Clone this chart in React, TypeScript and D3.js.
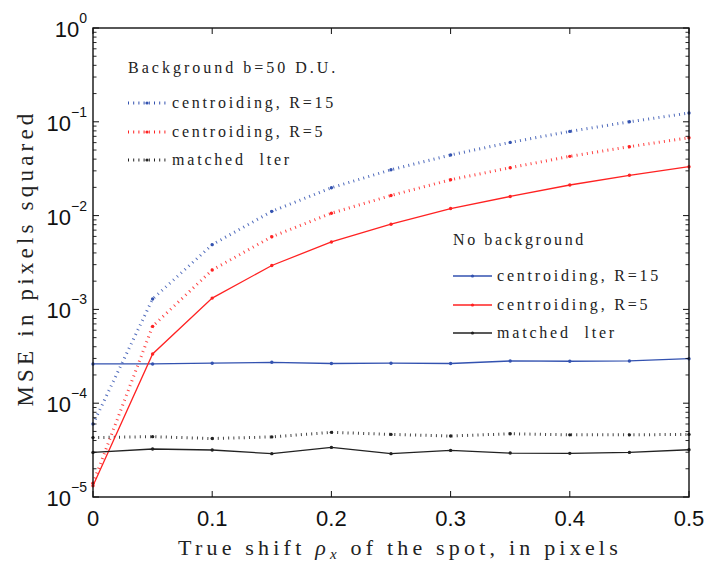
import React from "react";
import * as d3 from "d3";

const xs = [0, 0.05, 0.1, 0.15, 0.2, 0.25, 0.3, 0.35, 0.4, 0.45, 0.5];
const bgR15 = [6.0e-5, 1.29e-3, 4.9e-3, 1.11e-2, 1.98e-2, 3.08e-2, 4.43e-2, 6.03e-2, 7.9e-2, 0.1, 0.124];
const bgR5 = [1.4e-5, 6.6e-4, 2.63e-3, 5.96e-3, 1.06e-2, 1.64e-2, 2.41e-2, 3.24e-2, 4.28e-2, 5.43e-2, 6.76e-2];
const bgMF = [4.3e-5, 4.4e-5, 4.2e-5, 4.37e-5, 4.89e-5, 4.65e-5, 4.47e-5, 4.72e-5, 4.6e-5, 4.6e-5, 4.65e-5];
const noR15 = [2.62e-4, 2.62e-4, 2.67e-4, 2.73e-4, 2.65e-4, 2.67e-4, 2.65e-4, 2.82e-4, 2.8e-4, 2.82e-4, 2.98e-4];
const noR5 = [1.32e-5, 3.35e-4, 1.32e-3, 2.94e-3, 5.24e-3, 8.1e-3, 1.19e-2, 1.6e-2, 2.12e-2, 2.69e-2, 3.32e-2];
const noMF = [2.99e-5, 3.25e-5, 3.17e-5, 2.9e-5, 3.38e-5, 2.9e-5, 3.14e-5, 2.94e-5, 2.92e-5, 2.99e-5, 3.19e-5];

const xTicks = [0, 0.1, 0.2, 0.3, 0.4, 0.5];
const xTickLabels = ["0", "0.1", "0.2", "0.3", "0.4", "0.5"];
const yExponents = [-5, -4, -3, -2, -1, 0];

const bgTitle = "Background b=50 D.U.";
const noTitle = "No background";
const seriesNames = ["centroiding, R=15", "centroiding, R=5", "matched  lter"];

const BLUE = "#3352b0";
const RED = "#ff2222";
const BLACK = "#222222";

const L = 93, R = 689, T = 28, B = 497;

export default function App() {
  const x = d3.scaleLinear().domain([0, 0.5]).range([L, R]);
  const y = d3.scaleLog().domain([1e-5, 1]).range([B, T]);
  const line = d3
    .line<number>()
    .x((_, i) => x(xs[i]))
    .y((d) => y(d));

  const dotted = { strokeDasharray: "1,4.2", strokeWidth: 3 };
  const series = [
    { data: bgR15, color: BLUE, dot: true },
    { data: bgR5, color: RED, dot: true },
    { data: bgMF, color: BLACK, dot: true },
    { data: noR15, color: BLUE, dot: false },
    { data: noR5, color: RED, dot: false },
    { data: noMF, color: BLACK, dot: false },
  ];

  const minor: number[] = [];
  for (let e = -5; e < 0; e++) for (let k = 2; k <= 9; k++) minor.push(k * Math.pow(10, e));

  const sansFont = "'Liberation Sans', Arial, sans-serif";
  const serifFont = "'Liberation Serif', 'Times New Roman', serif";

  const legendRow = (
    lx1: number,
    lx2: number,
    tx: number,
    ly: number,
    color: string,
    dot: boolean,
    label: string,
    key: string
  ) => (
    <g key={key}>
      <line
        x1={lx1}
        x2={lx2}
        y1={ly}
        y2={ly}
        stroke={color}
        strokeWidth={dot ? 3 : 1.3}
        strokeDasharray={dot ? "1,4.2" : undefined}
      />
      <circle cx={(lx1 + lx2) / 2} cy={ly} r={1.6} fill={color} />
      <text
        x={tx}
        y={ly + 5}
        fontFamily={serifFont}
        fontSize={16}
        letterSpacing={2.8}
        fill="#222"
        style={{ whiteSpace: "pre" }}
      >
        {label}
      </text>
    </g>
  );

  return (
    <div style={{ position: "fixed", left: 0, top: 0 }}>
      <svg width={706} height={562} style={{ display: "block", background: "#fff" }}>
        {/* series */}
        {series.map((s, si) => (
          <g key={si}>
            <path
              d={line(s.data) || ""}
              fill="none"
              stroke={s.color}
              strokeWidth={s.dot ? dotted.strokeWidth : 1.3}
              strokeDasharray={s.dot ? dotted.strokeDasharray : undefined}
              opacity={s.dot ? 0.85 : 1}
            />
            {s.data.map((d, i) => (
              <circle key={i} cx={x(xs[i])} cy={y(d)} r={1.7} fill={s.color} />
            ))}
          </g>
        ))}

        {/* axes box */}
        <rect x={L} y={T} width={R - L} height={B - T} fill="none" stroke="#111" strokeWidth={1.4} />

        {/* x ticks */}
        {xTicks.map((t, i) => (
          <g key={"xt" + i}>
            <line x1={x(t)} x2={x(t)} y1={B} y2={B - 6} stroke="#111" strokeWidth={1} />
            <line x1={x(t)} x2={x(t)} y1={T} y2={T + 6} stroke="#111" strokeWidth={1} />
            <text
              x={x(t)}
              y={B + 29}
              textAnchor="middle"
              fontFamily={sansFont}
              fontSize={22}
              fill="#111"
            >
              {xTickLabels[i]}
            </text>
          </g>
        ))}

        {/* y major ticks */}
        {yExponents.map((e) => {
          const yy = y(Math.pow(10, e));
          return (
            <g key={"ye" + e}>
              <line x1={L} x2={L + 6} y1={yy} y2={yy} stroke="#111" strokeWidth={1} />
              <line x1={R} x2={R - 6} y1={yy} y2={yy} stroke="#111" strokeWidth={1} />
              <text x={87} y={yy + 9} textAnchor="end" fontFamily={sansFont} fontSize={22} fill="#111">
                10
                <tspan fontSize={14} dy={-14}>
                  {e === 0 ? "0" : "\u2212" + Math.abs(e)}
                </tspan>
              </text>
            </g>
          );
        })}

        {/* y minor ticks */}
        {minor.map((m, i) => {
          const yy = y(m);
          return (
            <g key={"ym" + i}>
              <line x1={L} x2={L + 3.5} y1={yy} y2={yy} stroke="#111" strokeWidth={0.9} />
              <line x1={R} x2={R - 3.5} y1={yy} y2={yy} stroke="#111" strokeWidth={0.9} />
            </g>
          );
        })}

        {/* axis labels */}
        <text
          x={400}
          y={555}
          textAnchor="middle"
          fontFamily={serifFont}
          fontSize={22}
          letterSpacing={4.2}
          fill="#222"
        >
          True shift{" "}
          <tspan fontStyle="italic">ρ</tspan>
          <tspan fontStyle="italic" fontSize={15} dy={4}>
            x
          </tspan>
          <tspan dy={-4}> of the spot, in pixels</tspan>
        </text>
        <text
          transform={`translate(33,258) rotate(-90)`}
          textAnchor="middle"
          fontFamily={serifFont}
          fontSize={23}
          letterSpacing={4.2}
          fill="#222"
        >
          MSE in pixels squared
        </text>

        {/* legend: background */}
        <text x={128} y={73} fontFamily={serifFont} fontSize={16} letterSpacing={3} fill="#222">
          {bgTitle}
        </text>
        {legendRow(128, 166, 172, 103, BLUE, true, seriesNames[0], "b1")}
        {legendRow(128, 166, 172, 132, RED, true, seriesNames[1], "b2")}
        {legendRow(128, 166, 172, 160, BLACK, true, seriesNames[2], "b3")}

        {/* legend: no background */}
        <text x={453} y={245} fontFamily={serifFont} fontSize={16} letterSpacing={2.6} fill="#222">
          {noTitle}
        </text>
        {legendRow(453, 492, 497, 276, BLUE, false, seriesNames[0], "n1")}
        {legendRow(453, 492, 497, 305, RED, false, seriesNames[1], "n2")}
        {legendRow(453, 492, 497, 333, BLACK, false, seriesNames[2], "n3")}
      </svg>
    </div>
  );
}
